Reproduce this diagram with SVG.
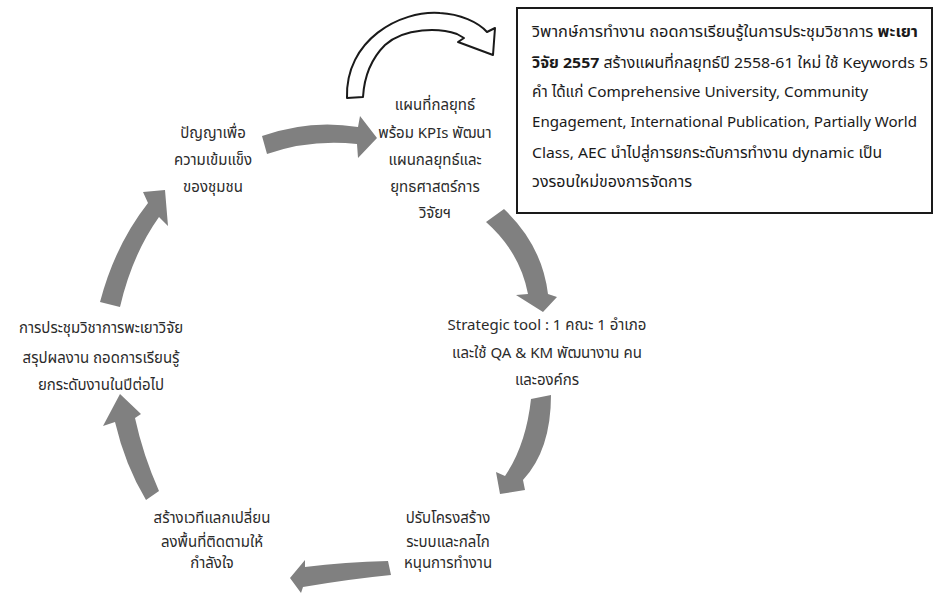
<svg xmlns="http://www.w3.org/2000/svg" width="936" height="593" viewBox="0 0 936 593">
<style>
.t{font-family:"Noto Sans Thai","Noto Sans","DejaVu Sans",sans-serif;font-size:15px;fill:#2b2b2b;text-anchor:middle}
.b{font-family:"Noto Sans Thai","Noto Sans","DejaVu Sans",sans-serif;font-size:15px;fill:#1a1a1a}
.bold{font-weight:bold}
.ga{fill:#808080;stroke:none}
</style>
<rect width="936" height="593" fill="#ffffff"/>
<g id="connectors">
<path class="ga" d="M262,136 Q310,119 358,127 L360,116 L377,138 L358,158 L357,144 Q310,139 267,154 Z"/>
<path class="ga" d="M486,222 L504,209 Q542,245 548,294 L557,297 L543,312 L516,295 L528,294 Q520,252 486,222 Z"/>
<path class="ga" d="M531,399 L551,395 Q551,450 523,480 L525,490 L500,494 L496,472 L505,476 Q526,445 531,399 Z"/>
<path class="ga" d="M388,561 Q345,562 305,567 L305,560 L290,578 L301,593 L303,587 Q350,579 391,575 Z"/>
<path class="ga" d="M159,491 Q143,455 135,418 L141,414 L120,394 L103,426 L115,422 Q125,465 146,500 Z"/>
<path class="ga" d="M100,302 Q115,245 148,203 L143,192 L165,190 L168,226 L159,217 Q132,255 120,307 Z"/>
<path d="M347,98 C345,40 400,10 440,13 C460,14 478,22 487,32 L495,28 L493,55 L458,42 L464,38 L457,34 C440,28 405,27 385,45 C370,60 364,80 363,97 Z" fill="#ffffff" stroke="#1a1a1a" stroke-width="2" stroke-linejoin="round"/>
</g>
<g id="node-strategy-map">
<text class="t" x="435" y="110">แผนที่กลยุทธ์</text>
<text class="t" x="435" y="138">พร้อม KPIs พัฒนา</text>
<text class="t" x="435" y="165">แผนกลยุทธ์และ</text>
<text class="t" x="435" y="192">ยุทธศาสตร์การ</text>
<text class="t" x="435" y="218">วิจัยฯ</text>
</g>
<g id="node-strategic-tool">
<text class="t" x="547" y="330">Strategic tool : 1 คณะ 1 อำเภอ</text>
<text class="t" x="547" y="358">และใช้ QA &amp; KM  พัฒนางาน คน</text>
<text class="t" x="547" y="385">และองค์กร</text>
</g>
<g id="node-restructure">
<text class="t" x="448" y="523">ปรับโครงสร้าง</text>
<text class="t" x="448" y="547">ระบบและกลไก</text>
<text class="t" x="448" y="568">หนุนการทำงาน</text>
</g>
<g id="node-forum">
<text class="t" x="212" y="523">สร้างเวทีแลกเปลี่ยน</text>
<text class="t" x="212" y="547">ลงพื้นที่ติดตามให้</text>
<text class="t" x="212" y="568">กำลังใจ</text>
</g>
<g id="node-conference">
<text class="t" x="101" y="333">การประชุมวิชาการพะเยาวิจัย</text>
<text class="t" x="101" y="363">สรุปผลงาน ถอดการเรียนรู้</text>
<text class="t" x="101" y="390">ยกระดับงานในปีต่อไป</text>
</g>
<g id="node-wisdom">
<text class="t" x="213" y="138">ปัญญาเพื่อ</text>
<text class="t" x="213" y="165">ความเข้มแข็ง</text>
<text class="t" x="213" y="192">ของชุมชน</text>
</g>
<g id="node-note">
<rect x="517" y="8" width="415" height="205" fill="#ffffff" stroke="#1a1a1a" stroke-width="2"/>
<text class="b" x="532" y="37" textLength="386" lengthAdjust="spacingAndGlyphs">วิพากษ์การทำงาน ถอดการเรียนรู้ในการประชุมวิชาการ <tspan class="bold">พะเยา</tspan></text>
<text class="b" x="532" y="68" textLength="396" lengthAdjust="spacingAndGlyphs"><tspan class="bold">วิจัย 2557</tspan> สร้างแผนที่กลยุทธ์ปี 2558-61 ใหม่ ใช้ Keywords 5</text>
<text class="b" x="532" y="97" textLength="336" lengthAdjust="spacingAndGlyphs">คำ ได้แก่ Comprehensive University, Community</text>
<text class="b" x="532" y="127" textLength="385" lengthAdjust="spacingAndGlyphs">Engagement, International Publication, Partially World</text>
<text class="b" x="532" y="158" textLength="350" lengthAdjust="spacingAndGlyphs">Class, AEC นำไปสู่การยกระดับการทำงาน dynamic เป็น</text>
<text class="b" x="532" y="187" textLength="160" lengthAdjust="spacingAndGlyphs">วงรอบใหม่ของการจัดการ</text>
</g>
</svg>
